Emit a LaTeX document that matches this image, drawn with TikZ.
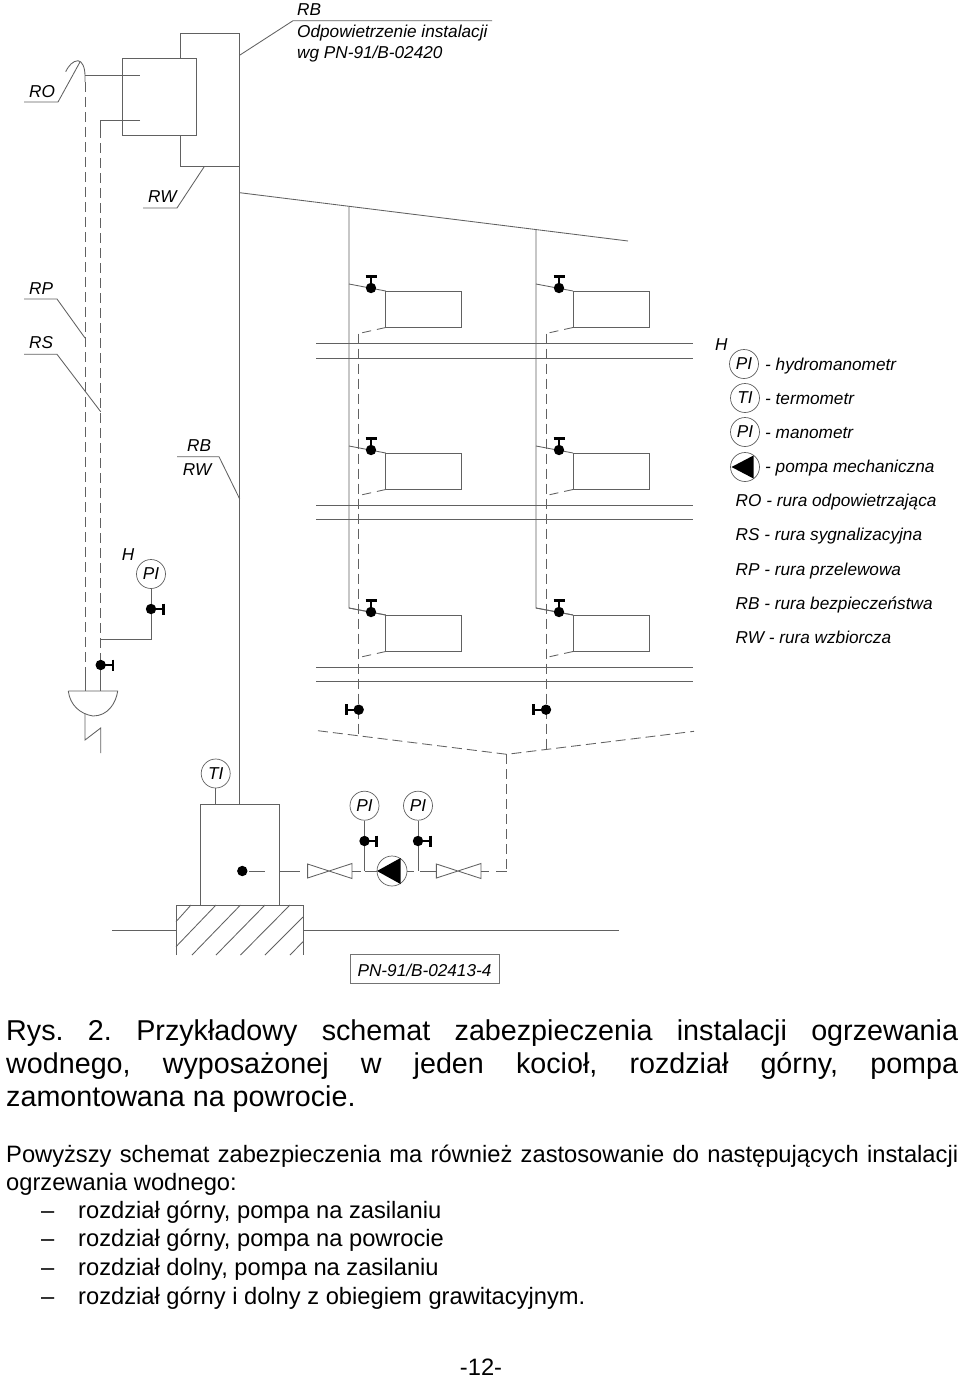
\documentclass[tikz,border=0pt]{standalone}
\usepackage{fontspec}
\setmainfont{Liberation Sans}
\usetikzlibrary{calc}
\tikzset{
  x=1pt,y=-1pt,
  pipe/.style={draw=black!62,line width=0.85pt},
  rpipe/.style={pipe,dash pattern=on 10pt off 5pt},
  lab/.style={anchor=base west,inner sep=0pt,font=\fontsize{17.2}{20}\selectfont\itshape},
  gauge/.style={circle,draw=black!62,line width=0.7pt,minimum size=29pt,inner sep=0pt,font=\fontsize{17.2}{20}\selectfont\itshape},
  bodyA/.style={anchor=base west,inner sep=0pt,font=\fontsize{28.7}{33}\selectfont},
  bodyB/.style={anchor=base west,inner sep=0pt,font=\fontsize{23.7}{28}\selectfont},
  vdot/.style={fill=black,draw=none},
  vhead/.style={draw=black,line width=2.8pt},
  vstem/.style={draw=black,line width=1.6pt},
}
\newcommand{\valveV}[2]{% handle up
  \fill[vdot] (#1,#2) circle[radius=5.2pt];
  \draw[vstem] (#1,#2) -- (#1,#2-11);
  \draw[vhead] (#1-5.5,#2-11.3) -- (#1+5.5,#2-11.3);}
\newcommand{\valveR}[2]{% handle right
  \fill[vdot] (#1,#2) circle[radius=5.2pt];
  \draw[vstem] (#1,#2) -- (#1+12,#2);
  \draw[vhead] (#1+12.3,#2-5.5) -- (#1+12.3,#2+5.5);}
\newcommand{\valveL}[2]{% handle left
  \fill[vdot] (#1,#2) circle[radius=5.2pt];
  \draw[vstem] (#1,#2) -- (#1-12,#2);
  \draw[vhead] (#1-12.3,#2-5.5) -- (#1-12.3,#2+5.5);}
\begin{document}
\frenchspacing
\begin{tikzpicture}
\path[use as bounding box,fill=white] (0,0) rectangle (960,1379);

% upper vessels
\draw[pipe] (180,58) -- (180,33) -- (239.7,33) -- (239.7,804.3);
\draw[pipe] (180,135) -- (180,166) -- (239.7,166);
\draw[pipe] (122,58) rectangle (196,135);
% RO / RP pipes
\draw[pipe] (65.7,71.7) .. controls (69,65) and (73,61) .. (78,60.7) .. controls (82,61) and (85,67) .. (85,76) -- (85,82);
\draw[pipe] (85,75.7) -- (140,75.7);
\draw[pipe] (140,120.3) -- (100.7,120.3) -- (100.7,128);
\draw[rpipe] (85,82) -- (85,671);
\draw[rpipe] (100.7,128) -- (100.7,671);
\draw[pipe] (85,671) -- (85,691);
\draw[pipe] (100.7,671) -- (100.7,691);
% small vessel at bottom left
\draw[pipe] (68.3,691) -- (117.7,691) .. controls (116,703) and (108,716) .. (93,716) .. controls (80,714) and (70,705) .. (68.3,691);
\draw[pipe] (85,714) -- (85,740) -- (100.7,728) -- (100.7,753);
\valveR{100.7}{665}
% hydromanometer H
\node[gauge] (gH) at (151,574) {PI};
\coordinate (hT) at (100.7,639);
\draw[pipe] (gH) -- (151,639) -- (hT);
\valveR{151}{609}

% distribution
\draw[pipe] (239.7,192.7) -- (628,241);
\draw[pipe] (349,206.5) -- (349,608) -- (385.7,615);
\draw[pipe] (536,229.5) -- (536,608) -- (573,615);
\foreach \ya in {343.5,505,667}{
  \draw[pipe] (316,\ya) -- (693,\ya);
  \draw[pipe] (316,\ya+14.7) -- (693,\ya+14.7);
}
\foreach \rx/\riser/\ret/\vx in {385.7/349/358.7/371,573/536/546/559}{
  \foreach \rt in {291,453,615}{
    \draw[pipe] (\rx,\rt) rectangle (\rx+76,\rt+36.5);
    \draw[rpipe,dash pattern=on 9pt off 6pt] (\rx,\rt+36.5) -- (\ret,\rt+42.5);
    \draw[pipe] (\riser,\rt-7) -- (\rx,\rt);
    \valveV{\vx}{\rt-3}
  }
}
% returns
\draw[rpipe] (358.7,333.5) -- (358.7,736.5);
\draw[rpipe] (546,333.5) -- (546,750);
\valveL{358.7}{709.7}
\valveL{546}{709.7}
\draw[rpipe] (318,730.7) -- (506.7,754.3) -- (694,731.3);
\draw[rpipe] (506.7,754.3) -- (506.7,871);

% boiler
\node[gauge] (gT) at (215.7,773.5) {TI};
\draw[pipe] (200,905) -- (200,804.3) -- (279,804.3) -- (279,905);
\draw[pipe] (gT) -- (215.7,804.3);
\fill[vdot] (242.3,871) circle[radius=5.2pt];
\draw[pipe] (249,871) -- (265,871);
\draw[pipe] (279,871) -- (300,871);
% base
\draw[pipe] (176,955) -- (176,905) -- (303,905) -- (303,955);
\draw[pipe] (176,921.7) -- (191,905);
\draw[pipe] (176,946.7) -- (216,905);
\draw[pipe] (192,955) -- (240.5,905);
\draw[pipe] (216,955) -- (265,905);
\draw[pipe] (240.5,955) -- (290,905);
\draw[pipe] (265,955) -- (303,917);
\draw[pipe] (290,955) -- (303,941.7);
\draw[pipe] (112,930) -- (176,930);
\draw[pipe] (303,930) -- (619,930);

% pump line
\draw[pipe] (307.6,864) -- (352,878.5) -- (352,863.5) -- (307.6,878) -- cycle;
\draw[pipe] (436.4,864) -- (481,878.5) -- (481,863.5) -- (436.4,878) -- cycle;
\draw[pipe] (352,871) -- (360.7,871);
\draw[pipe] (364.5,871) -- (377,871);
\draw[pipe] (407,871) -- (414,871);
\draw[pipe] (420,871) -- (436.4,871);
\draw[pipe] (481,871) -- (489,871);
\draw[pipe] (496,871) -- (506.7,871);
\node[gauge,minimum size=30pt] (pumpA) at (392,871) {};
\fill (377,871) -- (400.5,858) -- (400.5,884) -- cycle;
\node[gauge] (g1) at (364.5,805.7) {PI};
\node[gauge] (g2) at (418,805.7) {PI};
\draw[pipe] (g1) -- (364.5,871);
\draw[pipe] (g2) -- (418,871);
\valveR{364.5}{841}
\valveR{418}{841}

% PN box
\node[draw=black!55,line width=0.9pt,minimum width=149pt,minimum height=28.5pt,inner sep=0pt] (pn) at (424.5,968.8) {};
\node[lab,anchor=base] at (424.5,976) {PN-91/B-02413-4};

% leaders and labels
\draw[pipe] (240,55) -- (293,20.7) -- (492,20.7);
\node[lab] at (297,15) {RB};
\node[lab] at (297,37.7) {Odpowietrzenie instalacji};
\node[lab] at (297,58) {wg PN-91/B-02420};
\draw[pipe] (80,62) -- (58,102) -- (24,102);
\node[lab] at (29,97) {RO};
\draw[pipe] (204,167) -- (177,208) -- (143,208);
\node[lab] at (148,202) {RW};
\draw[pipe] (24,299) -- (57,299) -- (85,338);
\node[lab] at (29,294) {RP};
\draw[pipe] (24,354.3) -- (57,354.3) -- (100.7,411.7);
\node[lab] at (29,348) {RS};
\draw[pipe] (177,456.7) -- (219,456.7) -- (239.7,499);
\node[lab] at (187,451.7) {RB};
\node[lab] at (182.7,475) {RW};
\node[lab] at (121.7,560.7) {H};

% legend
\node[lab] at (715,350.7) {H};
\node[gauge] (l1) at (744,364) {PI};
\node[gauge] (l2) at (745,398) {TI};
\node[gauge] (l3) at (745,432) {PI};
\node[gauge] (l4) at (745,467) {};
\fill (731.5,467) -- (753.5,455.5) -- (753.5,478.5) -- cycle;
\node[lab] at (765,370.7) {- hydromanometr};
\node[lab] at (765,404) {- termometr};
\node[lab] at (765,438) {- manometr};
\node[lab] at (765,472.7) {- pompa mechaniczna};
\node[lab] at (735.5,506.7) {RO - rura odpowietrzająca};
\node[lab] at (735.5,540.7) {RS - rura sygnalizacyjna};
\node[lab] at (735.5,575) {RP - rura przelewowa};
\node[lab] at (735.5,609) {RB - rura bezpieczeństwa};
\node[lab] at (735.5,643) {RW - rura wzbiorcza};

% body text
\node[bodyA] at (6,1040.5) {\makebox[952pt][s]{Rys. 2. Przykładowy schemat zabezpieczenia instalacji ogrzewania}};
\node[bodyA] at (6,1073.5) {\makebox[952pt][s]{wodnego, wyposażonej w jeden kocioł, rozdział górny, pompa}};
\node[bodyA] at (6,1106.5) {zamontowana na powrocie.};
\node[bodyB] at (6,1162) {\makebox[952pt][s]{Powyższy schemat zabezpieczenia ma również zastosowanie do następujących instalacji}};
\node[bodyB] at (6,1190) {ogrzewania wodnego:};
\foreach \yb/\tx in {1218/rozdział górny{,} pompa na zasilaniu,1246.7/rozdział górny{,} pompa na powrocie,1275.7/rozdział dolny{,} pompa na zasilaniu,1304.5/rozdział górny i dolny z obiegiem grawitacyjnym.}{
  \node[bodyB] at (41,\yb) {–};
  \node[bodyB] at (78,\yb) {\tx};
}
\node[bodyB,anchor=base] at (481,1375) {-12-};
\end{tikzpicture}
\end{document}
